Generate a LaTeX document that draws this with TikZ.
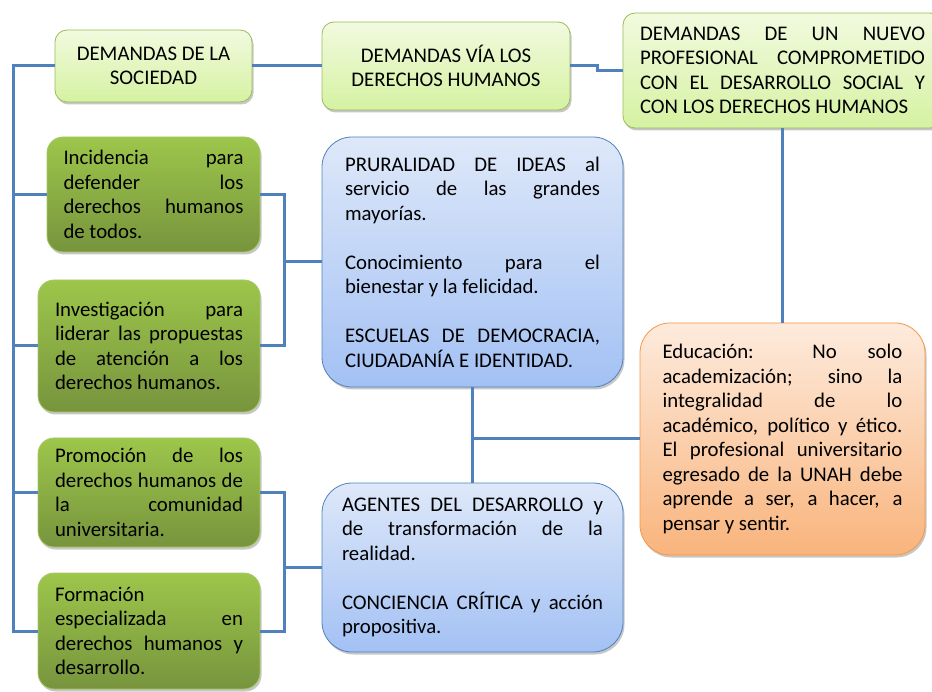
\documentclass[tikz,border=0pt]{standalone}
\usepackage{fontspec}
\setmainfont{Carlito}
\usepackage{tikz}
\usetikzlibrary{positioning,calc,shadows}
\definecolor{linkblue} {HTML}{4F81BD}
\definecolor{paletop}  {HTML}{F2FADF}
\definecolor{palebot}  {HTML}{D5F2A2}
\definecolor{palerim}  {HTML}{9BBB59}
\definecolor{leaftop}  {HTML}{9DC64B}
\definecolor{leafbot}  {HTML}{77943D}
\definecolor{leafrim}  {HTML}{A6C864}
\definecolor{ideatop}  {HTML}{DEE8F9}
\definecolor{ideabot}  {HTML}{A3C1F4}
\definecolor{idearim}  {HTML}{4F81BD}
\definecolor{goaltop}  {HTML}{FDEBDD}
\definecolor{goalbot}  {HTML}{F9B47C}
\definecolor{goalrim}  {HTML}{F79646}
\hyphenpenalty=10000
\tolerance=9999
\emergencystretch=20pt
\tikzset{
  every node/.style={font=\fontsize{20.8}{24.5}\selectfont},
  % --- nodes
  card/.style = {rounded corners=12pt, align=justify, inner ysep=4pt, line width=0.8pt,
                 drop shadow={shadow xshift=1.5pt, shadow yshift=-2.5pt, fill=black, opacity=.22}},
  pale/.style = {card, draw=palerim, top color=paletop, bottom color=palebot},
  leaf/.style = {card, rounded corners=16pt, draw=leafrim, top color=leaftop, bottom color=leafbot,
                 inner xsep=17pt, text width=188pt},
  idea/.style = {card, rounded corners=30pt, draw=idearim, top color=ideatop, bottom color=ideabot},
  goal/.style = {card, rounded corners=30pt, draw=goalrim, top color=goaltop, bottom color=goalbot},
  % --- edges
  link/.style = {draw=linkblue, line width=3pt},
}
\begin{document}
\begin{tikzpicture}[x=1pt, y=-1pt]
  \useasboundingbox (0,0) rectangle (932,692);

  \node[pale, align=center, minimum width=197pt, minimum height=72pt] (soc) at (153.5,66)
    {DEMANDAS DE LA\\SOCIEDAD};
  \node[pale, align=center, minimum width=248pt, minimum height=88pt] (dvh) at (446,66)
    {DEMANDAS VÍA LOS\\DERECHOS HUMANOS};
  \node[pale, text width=285pt, inner xsep=17pt, minimum height=115pt] (prof) at (782.5,70.5)
    {DEMANDAS DE UN NUEVO\linebreak PROFESIONAL COMPROMETIDO\linebreak
     CON EL DESARROLLO SOCIAL Y\linebreak CON LOS DERECHOS HUMANOS};

  \node[leaf, text width=180pt, inner xsep=16.5pt, minimum height=115pt] (inc) at (153.5,194.5)
    {Incidencia para\linebreak defender los\linebreak derechos humanos\linebreak de todos.};
  \node[leaf, minimum height=132pt] (inv) at (149,346)
    {Investigación para\linebreak liderar las propuestas\linebreak de atención a los\linebreak derechos humanos.};
  \node[leaf, minimum height=109pt] (pro) at (149,492.5)
    {Promoción de los\linebreak derechos humanos de\linebreak la comunidad\linebreak universitaria.};
  \node[leaf, minimum height=116pt] (form) at (149,631)
    {Formación\newline especializada en\linebreak derechos humanos y\linebreak desarrollo.};

  \node[idea, text width=255pt, inner xsep=23pt, minimum height=250pt] (plu) at (472.5,262)
    {PRURALIDAD DE IDEAS al\linebreak servicio de las grandes\linebreak mayorías.\par\vspace{\baselineskip}
     Conocimiento para el\linebreak bienestar y la felicidad.\par\vspace{\baselineskip}
     ESCUELAS DE DEMOCRACIA,\linebreak CIUDADANÍA E IDENTIDAD.};
  \node[idea, text width=261pt, inner xsep=20pt, minimum height=169pt] (agt) at (472.5,567.5)
    {AGENTES DEL DESARROLLO y\linebreak de transformación de la\linebreak realidad.\par\vspace{\baselineskip}
     CONCIENCIA CRÍTICA y acción\linebreak propositiva.};

  \node[goal, text width=240pt, inner xsep=22.5pt, minimum height=232pt] (edu) at (782.5,439)
    {Educación: No solo\linebreak academización; sino la\linebreak integralidad de lo\linebreak
     académico, político y ético.\linebreak El profesional universitario\linebreak
     egresado de la UNAH debe\linebreak aprende a ser, a hacer, a\linebreak pensar y sentir.};

  % trunk on the left
  \coordinate (trunk) at (13,66);
  \draw[link] (soc.west) -- (trunk) |- (form.west);
  \foreach \n in {inc,inv,pro} {
    \draw[link] (trunk |- \n.west) -- (\n.west);
  }
  \coordinate (forkA) at ($(plu.west)+(-37,0)$);
  \coordinate (forkB) at ($(agt.west)+(-37,0)$);
  \draw[link] (inc.east) -| (forkA) |- (inv.east);
  \draw[link] (forkA) -- (plu.west);
  \draw[link] (pro.east) -| (forkB) |- (form.east);
  \draw[link] (forkB) -- (agt.west);

  \draw[link] (soc.east) -- (dvh.west);
  \coordinate (jog) at ($(dvh.east)+(27,0)$);
  \draw[link] (dvh.east) -- (jog) |- (prof.west);
  \draw[link] (prof.south) -- (edu.north);
  \draw[link] (plu.south) -- (agt.north);
  \draw[link] (edu.west) -- (edu.west -| plu.south);
\end{tikzpicture}
\end{document}
